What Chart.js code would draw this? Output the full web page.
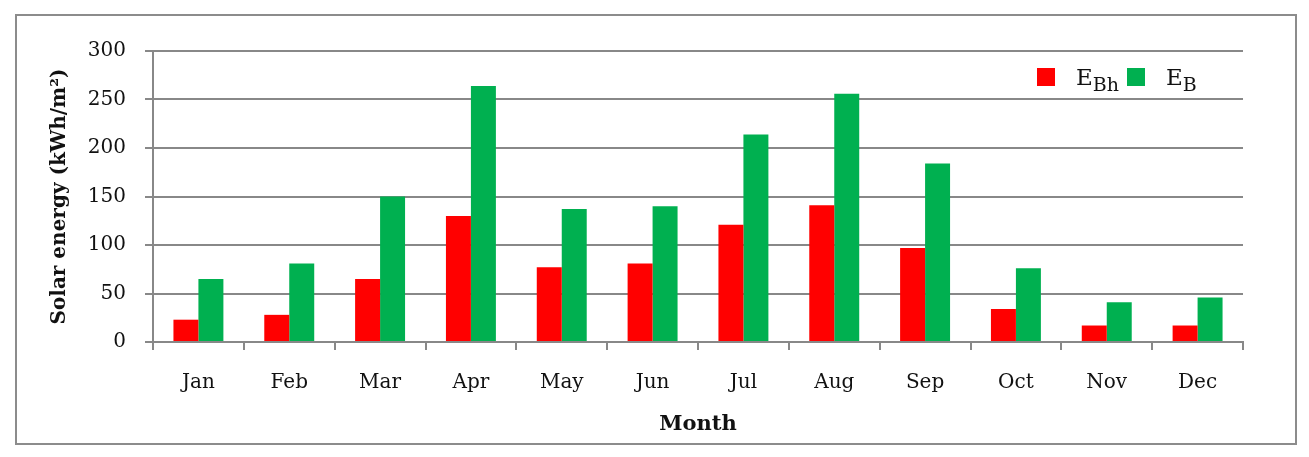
<!DOCTYPE html>
<html>
<head>
<meta charset="utf-8">
<script src="https://cdn.jsdelivr.net/npm/chart.js@4"></script>
<style>
    html, body { margin: 0; padding: 0; background: #fff; }
    #frame {
        position: absolute; left: 15px; top: 14px; width: 1278px; height: 427px;
        border: 2px solid #8c8c8c;
    }
    #wrap { position: absolute; left: 0; top: 0; width: 1309px; height: 457px; }
    #legend {
        position: absolute; left: 1037px; top: 64px;
        font-family: "DejaVu Serif", serif; font-size: 23px; color: #111;
        display: flex; align-items: center;
    }
    #legend .box { display: inline-block; width: 18px; height: 18px; margin-right: 21px; }
    #legend .item { display: flex; align-items: center; margin-right: 8px; }
    #legend sub { font-size: 19px; vertical-align: baseline; position: relative; top: 7px; }
</style>
</head>
<body>
<div id="frame"></div>
<div id="wrap"><canvas id="chart" width="1309" height="457"></canvas></div>
<div id="legend">
    <span class="item"><span class="box" style="background:#ff0000"></span>E<sub>Bh</sub></span>
    <span class="item"><span class="box" style="background:#00b050"></span>E<sub>B</sub></span>
</div>
<script>
    let months = ['Jan', 'Feb', 'Mar', 'Apr', 'May', 'Jun', 'Jul', 'Aug', 'Sep', 'Oct', 'Nov', 'Dec'];
    let eBh = [23, 28, 65, 130, 77, 81, 121, 141, 97, 34, 17, 17];
    let eB = [65, 81, 150, 264, 137, 140, 214, 256, 184, 76, 41, 46];

    let axisGray = '#888888';
    let serif = '"DejaVu Serif", serif';

    let ctx = document.getElementById('chart').getContext('2d');
    new Chart(ctx, {
        type: 'bar',
        data: {
            labels: months,
            datasets: [
                { label: 'EBh', data: eBh, backgroundColor: '#ff0000' },
                { label: 'EB', data: eB, backgroundColor: '#00b050' }
            ]
        },
        options: {
            responsive: false,
            animation: false,
            categoryPercentage: 0.55,
            barPercentage: 1,
            layout: { padding: { left: 48, top: 51, right: 66, bottom: 20 } },
            plugins: { legend: { display: false }, tooltip: { enabled: false } },
            scales: {
                x: {
                    offset: true,
                    grid: { offset: true, drawOnChartArea: false, color: axisGray, lineWidth: 2, tickLength: 8 },
                    border: { color: axisGray, width: 2 },
                    ticks: { color: '#111', padding: 21, font: { family: serif, size: 20 } },
                    title: { display: true, text: 'Month', color: '#111', padding: 0,
                        font: { family: serif, size: 21, weight: 'bold' } },
                    afterFit: (s) => { s.height = 437 - 342; }
                },
                y: {
                    min: 0, max: 300,
                    ticks: { stepSize: 50, color: '#111', padding: 19, font: { family: serif, size: 20 } },
                    grid: { color: axisGray, lineWidth: 2, tickLength: 8 },
                    border: { color: axisGray, width: 2 },
                    title: { display: true, text: 'Solar energy (kWh/m²)', color: '#111', padding: 0,
                        font: { family: serif, size: 20, weight: 'bold' } },
                    afterFit: (s) => { s.width = 153 - 48; }
                }
            }
        }
    });
</script>
</body>
</html>
